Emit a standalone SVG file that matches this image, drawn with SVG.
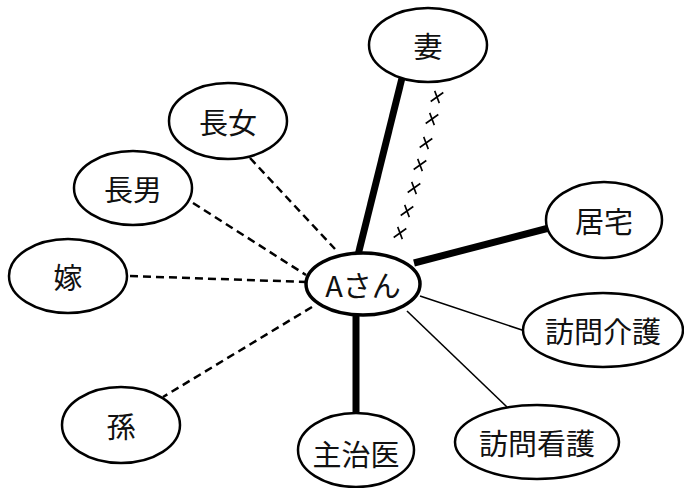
<svg xmlns="http://www.w3.org/2000/svg" width="684" height="488" viewBox="0 0 684 488">
<style>
.n{fill:#fff;stroke:#000;stroke-width:2.5}
.c{fill:#fff;stroke:#000;stroke-width:3.5}
.t{font-family:"Noto Sans CJK JP","Noto Sans",sans-serif;font-size:29px;fill:#111;text-anchor:middle;dominant-baseline:central}
.thick{stroke:#000;stroke-width:7;fill:none}
.thin{stroke:#000;stroke-width:1.6;fill:none}
.dash{stroke:#000;stroke-width:2.5;stroke-dasharray:8 5;fill:none}
.x{stroke:#000;stroke-width:1.6;fill:none}
</style>
<defs>
<path id="xm" d="M-6.3,4.5 L6.3,-4.5 M-2.3,-6.1 L2.3,6.1"/>
</defs>
<rect width="684" height="488" fill="#fff"/>
<g id="connectors">
<line class="thick" x1="402" y1="78" x2="358" y2="255"/>
<line class="thick" x1="414" y1="263" x2="549" y2="228" stroke-width="8"/>
<line class="thick" x1="356" y1="314" x2="356" y2="415"/>
<line class="thin" x1="420" y1="296" x2="525" y2="331"/>
<line class="thin" x1="407" y1="311" x2="507" y2="407"/>
<line class="dash" x1="312" y1="307" x2="163" y2="397"/>
<line class="dash" x1="130" y1="276" x2="307" y2="282"/>
<line class="dash" x1="193" y1="203" x2="306" y2="275"/>
<line class="dash" x1="250" y1="158" x2="335" y2="249"/>
<g id="cross-marks" class="x">
<use href="#xm" x="437" y="97"/>
<use href="#xm" x="432" y="119"/>
<use href="#xm" x="426" y="143"/>
<use href="#xm" x="420" y="165"/>
<use href="#xm" x="414" y="188"/>
<use href="#xm" x="407" y="211"/>
<use href="#xm" x="400" y="233"/>
</g>
</g>
<g id="wife"><ellipse class="n" cx="428" cy="45" rx="59" ry="37"/><text class="t" x="428" y="45">妻</text></g>
<g id="eldest-daughter"><ellipse class="n" cx="228" cy="121" rx="59" ry="38"/><text class="t" x="228" y="121">長女</text></g>
<g id="eldest-son"><ellipse class="n" cx="133" cy="188" rx="59" ry="37"/><text class="t" x="133" y="188">長男</text></g>
<g id="daughter-in-law"><ellipse class="n" cx="68" cy="276" rx="59" ry="37"/><text class="t" x="68" y="276">嫁</text></g>
<g id="grandchild"><ellipse class="n" cx="121" cy="425" rx="59" ry="38"/><text class="t" x="121" y="425">孫</text></g>
<g id="doctor"><ellipse class="n" cx="356" cy="450" rx="58" ry="37"/><text class="t" x="356" y="453">主治医</text></g>
<g id="home"><ellipse class="n" cx="604" cy="220" rx="58" ry="38"/><text class="t" x="604" y="220">居宅</text></g>
<g id="home-care"><ellipse class="n" cx="603" cy="330" rx="80" ry="37"/><text class="t" x="603" y="330">訪問介護</text></g>
<g id="home-nursing"><ellipse class="n" cx="537" cy="442" rx="82" ry="37"/><text class="t" x="537" y="442">訪問看護</text></g>
<g id="a-san"><ellipse class="c" cx="363" cy="284" rx="57" ry="31"/><text class="t" x="363" y="284">Aさん</text></g>
</svg>
